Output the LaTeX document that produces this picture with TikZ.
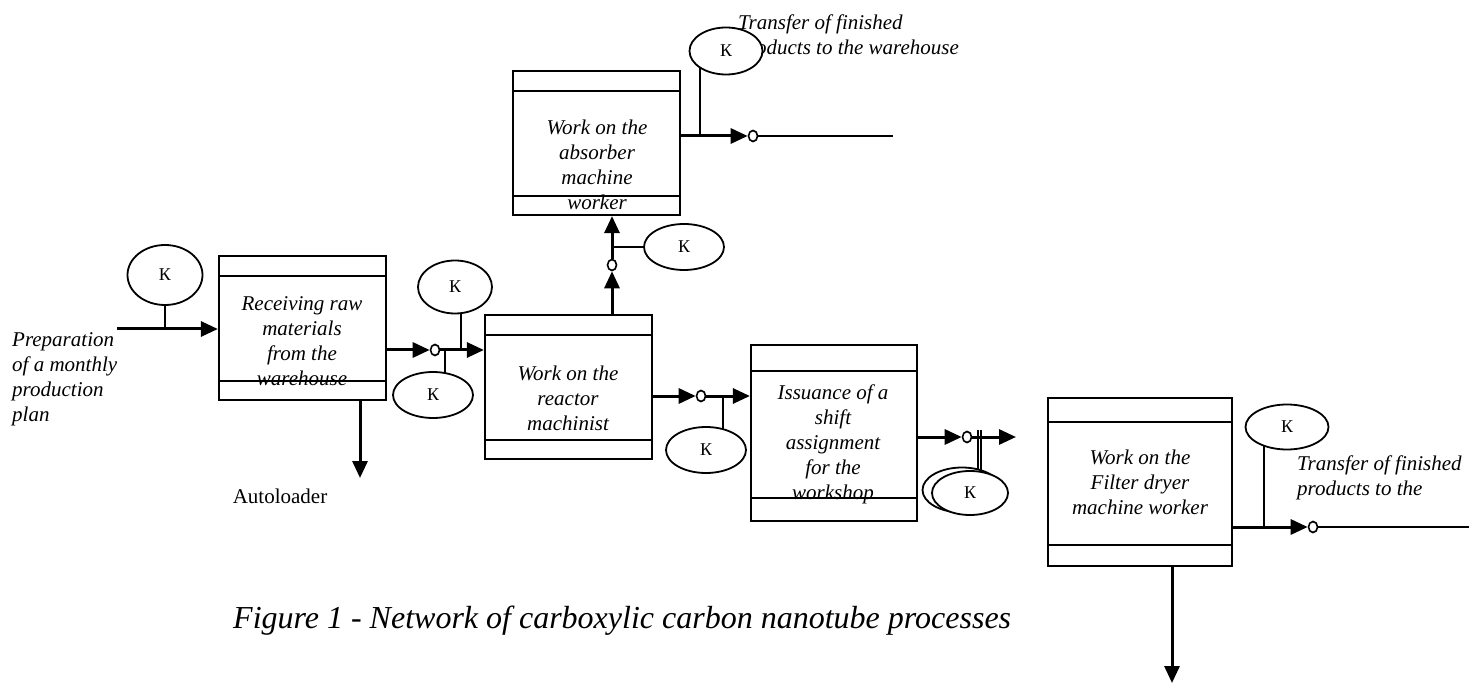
\documentclass[tikz,border=0pt]{standalone}
\usepackage{fontspec}
\setmainfont{Liberation Serif}
\usetikzlibrary{shapes.geometric, arrows.meta, positioning, calc, backgrounds}

\begin{document}
\begin{tikzpicture}[
    x=1pt, y=-1pt,
    proc/.style={draw, line width=2.2pt, inner sep=0, minimum width=167pt, minimum height=144pt},
    band/.style={line width=2.2pt},
    ptext/.style={font=\fontsize{21}{25}\selectfont\itshape, align=center, inner sep=0},
    ltext/.style={font=\fontsize{21}{25}\selectfont\itshape, align=left, inner sep=0, anchor=west},
    kel/.style={ellipse, draw, line width=1.8pt, fill=white, inner sep=0, minimum width=78pt, minimum height=46pt, font=\fontsize{18}{18}\selectfont},
    jn/.style={ellipse, draw, line width=1.6pt, fill=white, inner sep=0, minimum width=9pt, minimum height=11pt},
    flow/.style={line width=3pt, -{Triangle[length=17pt, width=15pt]}},
    outl/.style={line width=1.8pt},
    stub/.style={line width=1.8pt}
]
\useasboundingbox (0,0) rectangle (1469,684);

\node[proc] (A) at (302.5, 328) {};
\node[proc] (B) at (568.5, 387) {};
\node[proc] (C) at (596.5, 143) {};
\node[proc, minimum width=166pt, minimum height=176pt] (D) at (834, 433) {};
\node[proc, minimum width=184pt, minimum height=168pt] (E) at (1140, 482) {};

\foreach \b/\t/\u in {A/21/20, B/21/20, C/21/20, D/27/24, E/25/22} {
  \draw[band] ([yshift=-\t pt]\b.north west) -- ([yshift=-\t pt]\b.north east);
  \draw[band] ([yshift=\u pt]\b.south west) -- ([yshift=\u pt]\b.south east);
}

\node[ptext] (tA) at (302, 341) {Receiving raw\\materials\\from the\\warehouse};
\node[ptext] (tB) at (568, 398) {Work on the\\reactor\\machinist};
\node[ptext] (tC) at (597, 165) {Work on the\\absorber\\machine\\worker};
\node[ptext] (tD) at (833, 444) {Issuance of a\\shift\\assignment\\for the\\workshop};
\node[ptext] (tE) at (1140, 482) {Work on the\\Filter dryer\\machine worker};

\node[ltext] (plan) at (12, 379) {Preparation\\of a monthly\\production\\plan};
\node[ltext] (trC) at (738, 37) {Transfer of finished\\products to the warehouse};
\node[ltext] (trE) at (1297, 478) {Transfer of finished\\products to the};
\node[font=\fontsize{21}{25}\selectfont, inner sep=0] (auto) at (280, 496) {Autoloader};
\node[font=\fontsize{32}{36}\selectfont\itshape, inner sep=0, anchor=west] (cap) at (233, 621) {Figure 1 - Network of carboxylic carbon nanotube processes};

\coordinate (in0) at (117, 329);
\coordinate (outC) at (893, 136);
\coordinate (outD) at (1016, 437);
\coordinate (outA) at (360, 478);
\coordinate (outE) at (1469, 527);
\coordinate (outEd) at (1172, 683);
\coordinate (sK2) at (461, 350);
\coordinate (sK3) at (445, 350);
\coordinate (sK5) at (700, 136);
\coordinate (sK6) at (723, 396);
\coordinate (sK7) at (979.5, 430);
\coordinate (sK8) at (1264, 527);

\node[jn] (j1) at (435, 350) {};
\node[jn] (j2) at (612, 265) {};
\node[jn] (j3) at (753, 136) {};
\node[jn] (j4) at (701, 396) {};
\node[jn] (j5) at (967, 437) {};
\node[jn] (j6) at (1313, 527) {};

\node[kel, minimum width=75pt, minimum height=60pt] (k1) at (165, 275) {К};
\node[kel, minimum width=74pt, minimum height=53pt] (k2) at (455, 287) {К};
\node[kel, minimum width=80pt] (k3) at (433, 395) {К};
\node[kel, minimum width=80pt] (k4) at (684, 247) {К};
\node[kel, minimum width=73pt, minimum height=47pt] (k5) at (726, 51) {К};
\node[kel, minimum width=80pt] (k6) at (706, 450) {К};
\node[kel, minimum width=79pt, minimum height=45pt] (k7b) at (962, 490) {};
\node[kel, minimum width=76pt, minimum height=44pt] (k7) at (970, 493) {К};
\node[kel, minimum width=83pt, minimum height=45pt] (k8) at (1287, 427) {К};

\draw[flow] (in0) -- (in0 -| A.west);
\draw[flow] (j1 -| A.east) -- (j1);
\draw[flow] (j1) -- (j1 -| B.west);
\draw[flow] (B.north -| j2) -- (j2);
\draw[flow] (j2) -- (j2 |- C.south);
\draw[flow] (j3 -| C.east) -- (j3);
\draw[outl] (j3) -- (outC);
\draw[flow] (j4 -| B.east) -- (j4);
\draw[flow] (j4) -- (j4 -| D.west);
\draw[flow] (j5 -| D.east) -- (j5);
\draw[flow] (j5) -- (outD);
\draw[flow] (A.south -| outA) -- (outA);
\draw[flow] (j6 -| E.east) -- (j6);
\draw[outl] (j6) -- (outE);
\draw[flow] (E.south -| outEd) -- (outEd);

\begin{scope}[on background layer]
\draw[stub] (k1.center) -- (k1.center |- in0);
\draw[stub] (sK2) -- (sK2 |- k2.center);
\draw[stub] (sK3) -- (sK3 |- k3.center);
\draw[stub] (j2 |- k4) -- (k4.center);
\draw[stub] (sK5) -- (sK5 |- k5.center);
\draw[stub] (sK6) -- (sK6 |- k6.center);
\draw[stub, double, double distance=1.6pt, line width=1.3pt] (sK7) -- (sK7 |- k7b.center);
\draw[stub] (sK8) -- (sK8 |- k8.center);
\end{scope}
\end{tikzpicture}
\end{document}
